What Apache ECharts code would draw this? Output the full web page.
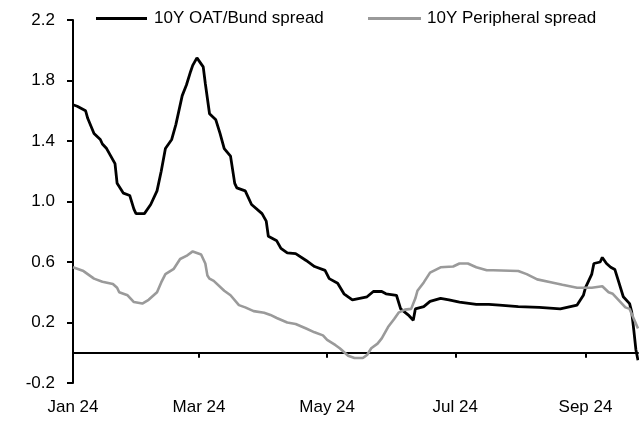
<!DOCTYPE html>
<html>
<head>
<meta charset="utf-8">
<script src="https://cdn.jsdelivr.net/npm/echarts@6/dist/echarts.min.js"></script>
<style>html,body{margin:0;padding:0;background:#fff}#c{width:639px;height:424px}</style>
</head>
<body>
<div id="c"></div>
<script>
const oatDates = ['2024-01-01','2024-01-03','2024-01-07','2024-01-08','2024-01-11','2024-01-14','2024-01-15','2024-01-17','2024-01-19','2024-01-21','2024-01-22','2024-01-25','2024-01-28','2024-01-30','2024-01-31','2024-02-04','2024-02-07','2024-02-10','2024-02-12','2024-02-14','2024-02-17','2024-02-19','2024-02-22','2024-02-24','2024-02-26','2024-02-27','2024-02-29','2024-03-01','2024-03-03','2024-03-04','2024-03-06','2024-03-09','2024-03-11','2024-03-13','2024-03-16','2024-03-18','2024-03-19','2024-03-23','2024-03-26','2024-03-31','2024-04-02','2024-04-03','2024-04-07','2024-04-09','2024-04-12','2024-04-16','2024-04-21','2024-04-25','2024-04-30','2024-05-02','2024-05-06','2024-05-09','2024-05-13','2024-05-20','2024-05-23','2024-05-27','2024-05-29','2024-06-03','2024-06-05','2024-06-09','2024-06-11','2024-06-12','2024-06-16','2024-06-19','2024-06-24','2024-06-28','2024-07-03','2024-07-11','2024-07-17','2024-07-22','2024-07-31','2024-08-10','2024-08-20','2024-08-28','2024-08-31','2024-09-01','2024-09-04','2024-09-05','2024-09-08','2024-09-09','2024-09-11','2024-09-13','2024-09-15','2024-09-17','2024-09-19','2024-09-22','2024-09-23','2024-09-24','2024-09-25','2024-09-26'];
const oatValues = [1.64,1.63,1.60,1.55,1.45,1.41,1.38,1.35,1.30,1.25,1.12,1.055,1.04,0.95,0.92,0.92,0.98,1.07,1.20,1.35,1.41,1.51,1.70,1.77,1.86,1.90,1.95,1.93,1.89,1.78,1.58,1.54,1.45,1.35,1.30,1.12,1.09,1.07,0.98,0.92,0.87,0.77,0.74,0.69,0.66,0.655,0.61,0.57,0.545,0.49,0.46,0.39,0.35,0.37,0.405,0.405,0.39,0.38,0.29,0.245,0.215,0.29,0.305,0.34,0.36,0.35,0.335,0.32,0.32,0.315,0.305,0.30,0.29,0.315,0.38,0.43,0.52,0.59,0.60,0.63,0.59,0.565,0.55,0.46,0.37,0.325,0.27,0.15,0.02,-0.05];
const periDates = ['2024-01-01','2024-01-06','2024-01-08','2024-01-11','2024-01-15','2024-01-20','2024-01-22','2024-01-23','2024-01-27','2024-01-30','2024-02-03','2024-02-06','2024-02-10','2024-02-12','2024-02-14','2024-02-18','2024-02-21','2024-02-24','2024-02-27','2024-02-29','2024-03-02','2024-03-04','2024-03-05','2024-03-06','2024-03-08','2024-03-13','2024-03-16','2024-03-20','2024-03-23','2024-03-27','2024-04-01','2024-04-04','2024-04-07','2024-04-12','2024-04-16','2024-04-21','2024-04-25','2024-04-29','2024-05-01','2024-05-05','2024-05-07','2024-05-11','2024-05-14','2024-05-18','2024-05-20','2024-05-22','2024-05-25','2024-05-27','2024-05-30','2024-06-02','2024-06-04','2024-06-07','2024-06-10','2024-06-12','2024-06-13','2024-06-16','2024-06-19','2024-06-24','2024-06-30','2024-07-03','2024-07-07','2024-07-11','2024-07-16','2024-07-19','2024-07-31','2024-08-04','2024-08-09','2024-08-16','2024-08-21','2024-08-28','2024-09-04','2024-09-09','2024-09-12','2024-09-14','2024-09-17','2024-09-20','2024-09-22','2024-09-24','2024-09-26'];
const periValues = [0.565,0.54,0.52,0.49,0.47,0.455,0.43,0.40,0.38,0.335,0.325,0.35,0.40,0.465,0.52,0.555,0.62,0.64,0.67,0.66,0.65,0.59,0.51,0.49,0.475,0.41,0.38,0.315,0.30,0.275,0.265,0.25,0.23,0.20,0.19,0.16,0.135,0.115,0.085,0.05,0.03,-0.02,-0.035,-0.035,-0.015,0.03,0.06,0.095,0.17,0.225,0.265,0.285,0.29,0.36,0.41,0.465,0.53,0.565,0.57,0.59,0.59,0.565,0.545,0.545,0.54,0.52,0.485,0.465,0.45,0.43,0.43,0.44,0.40,0.39,0.345,0.30,0.29,0.225,0.16];
const xTickDates = ['2024-01-01','2024-03-01','2024-05-01','2024-07-01','2024-09-01'];
const monthNames = ['Jan','Feb','Mar','Apr','May','Jun','Jul','Aug','Sep','Oct','Nov','Dec'];
const seriesNames = ['10Y OAT/Bund spread','10Y Peripheral spread'];

const ts = d => { const p = d.split('-'); return Date.UTC(+p[0], +p[1]-1, +p[2]); };
const font = '"Liberation Sans", Arial, sans-serif';
const chart = echarts.init(document.getElementById('c'), null, {renderer: 'canvas'});
chart.setOption({
  animation: false,
  grid: {left: 73, right: 1, top: 20, bottom: 41, containLabel: false, outerBoundsMode: 'none'},
  legend: [
    {data: [seriesNames[0]], left: 96, top: 10, padding: 0, itemWidth: 51, itemHeight: 3, icon: 'rect',
     textStyle: {fontFamily: font, fontSize: 17, color: '#000', padding: [0,0,0,2]}},
    {data: [seriesNames[1]], left: 368, top: 10, padding: 0, itemWidth: 53, itemHeight: 3, icon: 'rect',
     textStyle: {fontFamily: font, fontSize: 17, color: '#000', padding: [0,0,0,1]}}
  ],
  xAxis: {
    type: 'value',
    min: ts('2024-01-01'), max: ts('2024-09-26'),
    axisLine: {onZero: true, lineStyle: {color: '#000', width: 2}},
    axisTick: {show: true, length: 5, inside: false, lineStyle: {color: '#000', width: 2},
               customValues: xTickDates.map(ts)},
    axisLabel: {customValues: xTickDates.map(ts), margin: 16, color: '#000', fontFamily: font, fontSize: 17,
      formatter: v => { const d = new Date(v); return monthNames[d.getUTCMonth()] + ' ' + String(d.getUTCFullYear()).slice(2); }},
    splitLine: {show: false}
  },
  yAxis: {
    type: 'value', min: -0.2, max: 2.2, interval: 0.4,
    axisLine: {show: true, lineStyle: {color: '#000', width: 2}},
    axisTick: {show: true, length: 6, lineStyle: {color: '#000', width: 2}},
    axisLabel: {color: '#000', fontFamily: font, fontSize: 17, margin: 18, formatter: v => v.toFixed(1)},
    splitLine: {show: false}
  },
  series: [
    {name: seriesNames[0], type: 'line', symbol: 'none', color: '#000',
     lineStyle: {color: '#000', width: 2.8},
     data: oatDates.map((d, i) => [ts(d), oatValues[i]])},
    {name: seriesNames[1], type: 'line', symbol: 'none', color: '#9a9a9a',
     lineStyle: {color: '#9a9a9a', width: 2.6},
     data: periDates.map((d, i) => [ts(d), periValues[i]])}
  ]
});
</script>
</body>
</html>
